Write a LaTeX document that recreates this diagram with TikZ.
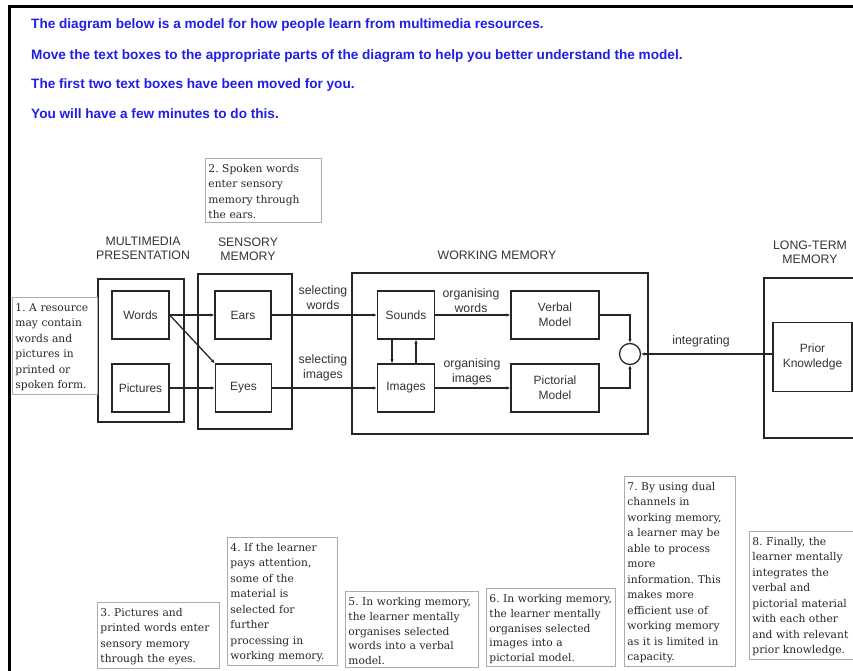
\documentclass[tikz,border=0pt]{standalone}
\usepackage{fontspec}
\setmainfont{DejaVu Serif}
\setsansfont{Liberation Sans}
\usepackage{xcolor}
\usetikzlibrary{positioning, arrows.meta}
\definecolor{taskblue}{RGB}{30,30,230}
\tikzset{
  tasktext/.style={anchor=base west, inner sep=0pt, text=taskblue,
                   font=\sffamily\bfseries\fontsize{13.6}{15}\selectfont},
  storebox/.style={rectangle, draw=black!85, line width=1.5pt},
  unitbox/.style={rectangle, draw=black!85, line width=1.3pt,
                  minimum height=48pt, align=center, text=black!80,
                  font=\sffamily\fontsize{12}{15}\selectfont},
  headtext/.style={align=center, text=black!80, inner sep=0pt,
                   font=\sffamily\fontsize{12.3}{14}\selectfont},
  flowtext/.style={align=center, text=black!80, inner sep=0pt,
                   font=\sffamily\fontsize{12.3}{15}\selectfont},
  notebox/.style={rectangle, draw=gray!65, line width=0.9pt,
                  anchor=north west, align=left, inner xsep=3pt,
                  inner ysep=3pt, text=black!85,
                  execute at begin node=\rule{0pt}{11pt},
                  font=\frenchspacing\fontsize{10.7}{15.5}\selectfont},
  tightnote/.style={font=\frenchspacing\fontsize{10.7}{14.8}\selectfont},
  flowarr/.style={-{Latex[length=4pt,width=3.5pt]}, line width=1.3pt,
                  draw=black!85},
}

\begin{document}
\begin{tikzpicture}[x=1pt, y=-1pt]
  \useasboundingbox (0,0) rectangle (853,671);
  \clip (0,0) rectangle (853,671);

  %% Frame
  \draw[line width=3pt] (9,690) -- (9,7) -- (870,7);

  %% Instructions
  \node[tasktext] (task1) at (31,29)
    {The diagram below is a model for how people learn from multimedia resources.};
  \node[tasktext] (task2) at (31,60)
    {Move the text boxes to the appropriate parts of the diagram to help you better understand the model.};
  \node[tasktext] (task3) at (31,89)
    {The first two text boxes have been moved for you.};
  \node[tasktext] (task4) at (31,119)
    {You will have a few minutes to do this.};

  %% Stores
  \node[storebox, minimum width=86pt, minimum height=143pt] (mm) at (141,350.5) {};
  \node[storebox, minimum width=94pt, minimum height=155pt] (sm) at (245,351.5) {};
  \node[storebox, minimum width=296pt, minimum height=161pt] (wm) at (500,353.5) {};
  \node[storebox, minimum width=160pt, minimum height=160pt, anchor=north west]
    (ltm) at (763,277) {};

  %% Store headings
  \node[headtext] (mmhead) at (143,248) {MULTIMEDIA\\PRESENTATION};
  \node[headtext] (smhead) at (248,249) {SENSORY\\MEMORY};
  \node[headtext] (wmhead) at (497,255) {WORKING MEMORY};
  \node[headtext] (ltmhead) at (810,252) {LONG-TERM\\MEMORY};

  %% Units
  \node[unitbox, minimum width=57pt] (words) at (140.5,315) {Words};
  \node[unitbox, minimum width=57pt] (pictures) at (140.5,388) {Pictures};
  \node[unitbox, minimum width=56pt] (ears) at (243,315) {Ears};
  \node[unitbox, minimum width=56pt] (eyes) at (243.5,388) {Eyes};
  \node[unitbox, minimum width=57pt] (sounds) at (406,315) {Sounds};
  \node[unitbox, minimum width=57pt] (images) at (406,388) {Images};
  \node[unitbox, minimum width=88pt] (verbal) at (555,315) {Verbal\\Model};
  \node[unitbox, minimum width=88pt] (pictorial) at (555,388) {Pictorial\\Model};
  \node[circle, draw=black!85, line width=1.3pt, minimum size=21pt] (integ) at (630,354) {};
  \node[unitbox, minimum width=79pt, minimum height=69pt] (prior) at (812.5,357)
    {Prior\\Knowledge};

  %% Arrows
  \draw[flowarr] (words.east) -- (ears.west);
  \draw[flowarr] (words.east) -- (eyes.north west);
  \draw[flowarr] (pictures) -- (eyes);
  \draw[flowarr] (ears) -- (sounds);
  \draw[flowarr] (eyes) -- (images);
  \draw[flowarr] (sounds) -- (verbal);
  \draw[flowarr] (images) -- (pictorial);
  \draw[flowarr] ([xshift=-14pt]sounds.south) -- ([xshift=-14pt]images.north);
  \draw[flowarr] ([xshift=10pt]images.north) -- ([xshift=10pt]sounds.south);
  \draw[flowarr] (verbal.east) -| (integ.north);
  \draw[flowarr] (pictorial.east) -| (integ.south);
  \draw[flowarr] (prior.west |- integ.east) -- (integ.east);

  %% Arrow labels
  \node[flowtext] (selw) at (323,298) {selecting\\words};
  \node[flowtext] (seli) at (323,368) {selecting\\images};
  \node[flowtext] (orgw) at (471,301) {organising\\words};
  \node[flowtext] (orgi) at (472,372) {organising\\images};
  \node[flowtext] (intg) at (701,341) {integrating};

  %% Text boxes
  \node[notebox, text width=79pt] (note1) at (12,297)
    {1. A resource\\may contain\\words and\\pictures in\\printed or\\spoken form.};
  \node[notebox, text width=110pt] (note2) at (205,158)
    {2. Spoken words\\enter sensory\\memory through\\the ears.};
  \node[notebox, text width=116pt] (note3) at (97,602)
    {3. Pictures and\\printed words enter\\sensory memory\\through the eyes.};
  \node[notebox, text width=104pt] (note4) at (227,537)
    {4. If the learner\\pays attention,\\some of the\\material is\\selected for\\further\\processing in\\working memory.};
  \node[notebox, tightnote, text width=127pt] (note5) at (345,591)
    {5. In working memory,\\the learner mentally\\organises selected\\words into a verbal\\model.};
  \node[notebox, tightnote, text width=123pt] (note6) at (486,588)
    {6. In working memory,\\the learner mentally\\organises selected\\images into a\\pictorial model.};
  \node[notebox, text width=105pt] (note7) at (624,476)
    {7. By using dual\\channels in\\working memory,\\a learner may be\\able to process\\more\\information. This\\makes more\\efficient use of\\working memory\\as it is limited in\\capacity.};
  \node[notebox, text width=125pt] (note8) at (749,531)
    {8. Finally, the\\learner mentally\\integrates the\\verbal and\\pictorial material\\with each other\\and with relevant\\prior knowledge.};

\end{tikzpicture}
\end{document}
